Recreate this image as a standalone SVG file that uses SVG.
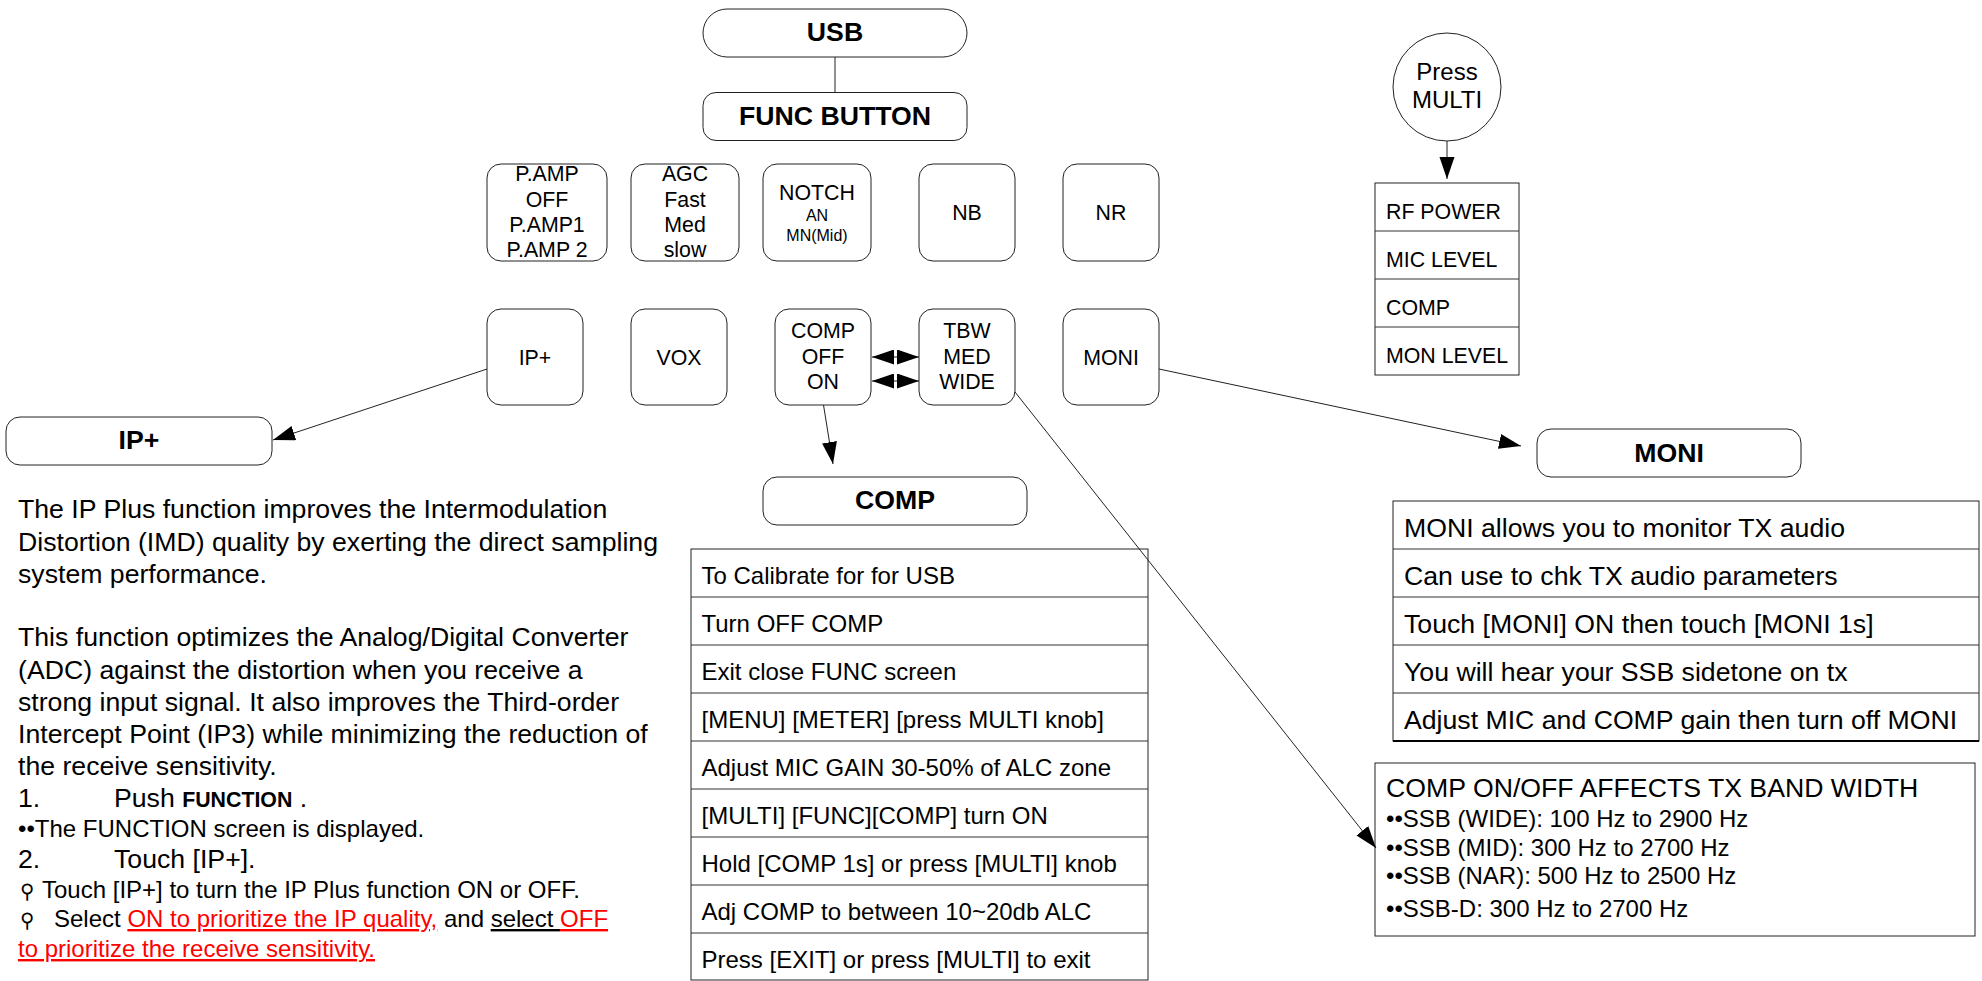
<svg xmlns="http://www.w3.org/2000/svg" width="1982" height="981" viewBox="0 0 1982 981">
<style>
text{font-family:"Liberation Sans",Arial,sans-serif;fill:#000}
.b{fill:#fff;stroke:#222;stroke-width:1}
.n{font-size:21.33px;text-anchor:middle}
.t{font-size:26.67px;font-weight:bold;text-anchor:middle}
.l{stroke:#222;stroke-width:1;fill:none}
.a{marker-end:url(#h)}
.d{marker-end:url(#h);marker-start:url(#hs)}
.r{stroke:#333;stroke-width:1;fill:none}
.p{font-size:26.67px}
.s{font-size:24px}
.c{font-size:24px}
.m{font-size:26.67px}
.red{fill:#f00;text-decoration:underline}
.u{text-decoration:underline}
.pin{font-family:"DejaVu Sans",sans-serif;font-size:20px}
</style>
<defs>
<marker id="h" markerUnits="userSpaceOnUse" markerWidth="24" markerHeight="16" refX="22" refY="7.5" orient="auto"><path d="M0 0L22 7.5L0 15Z" fill="#000"/></marker>
<marker id="hs" markerUnits="userSpaceOnUse" markerWidth="24" markerHeight="16" refX="0" refY="7.5" orient="auto"><path d="M22 0L0 7.5L22 15Z" fill="#000"/></marker>
</defs>
<g id="usb"><rect class="b" x="703" y="9" width="264" height="48" rx="24"/><text class="t" x="835" y="41">USB</text></g>
<g id="func"><rect class="b" x="703" y="92.500" width="264" height="48" rx="13"/><text class="t" x="835" y="125">FUNC BUTTON</text></g>
<g id="pamp"><rect class="b" x="487" y="164" width="120" height="97" rx="14"/><text class="n" x="547" y="181">P.AMP</text><text class="n" x="547" y="207">OFF</text><text class="n" x="547" y="232">P.AMP1</text><text class="n" x="547" y="257">P.AMP 2</text></g>
<g id="agc"><rect class="b" x="631" y="164" width="108" height="97" rx="14"/><text class="n" x="685" y="181">AGC</text><text class="n" x="685" y="207">Fast</text><text class="n" x="685" y="232">Med</text><text class="n" x="685" y="257">slow</text></g>
<g id="notch"><rect class="b" x="763" y="164" width="108" height="97" rx="14"/><text class="n" x="817" y="200">NOTCH</text><text class="n" x="817" y="221" style="font-size:16px">AN</text><text class="n" x="817" y="241" style="font-size:16px">MN(Mid)</text></g>
<g id="nb"><rect class="b" x="919" y="164" width="96" height="97" rx="14"/><text class="n" x="967" y="220">NB</text></g>
<g id="nr"><rect class="b" x="1063" y="164" width="96" height="97" rx="14"/><text class="n" x="1111" y="220">NR</text></g>
<g id="ipbtn"><rect class="b" x="487" y="309" width="96" height="96" rx="14"/><text class="n" x="535" y="365">IP+</text></g>
<g id="vox"><rect class="b" x="631" y="309" width="96" height="96" rx="14"/><text class="n" x="679" y="365">VOX</text></g>
<g id="compbtn"><rect class="b" x="775" y="309" width="96" height="96" rx="14"/><text class="n" x="823" y="338">COMP</text><text class="n" x="823" y="364">OFF</text><text class="n" x="823" y="389">ON</text></g>
<g id="tbw"><rect class="b" x="919" y="309" width="96" height="96" rx="14"/><text class="n" x="967" y="338">TBW</text><text class="n" x="967" y="364">MED</text><text class="n" x="967" y="389">WIDE</text></g>
<g id="monibtn"><rect class="b" x="1063" y="309" width="96" height="96" rx="14"/><text class="n" x="1111" y="365">MONI</text></g>
<g id="iptitle"><rect class="b" x="6" y="417" width="266" height="48" rx="14"/><text class="t" x="139" y="449">IP+</text></g>
<g id="comptitle"><rect class="b" x="763" y="477" width="264" height="48" rx="14"/><text class="t" x="895" y="509">COMP</text></g>
<g id="monititle"><rect class="b" x="1537" y="429" width="264" height="48" rx="14"/><text class="t" x="1669" y="462">MONI</text></g>
<g id="press"><circle class="b" cx="1447" cy="87" r="54"/><text x="1447" y="80" text-anchor="middle" font-size="24">Press</text><text x="1447" y="108" text-anchor="middle" font-size="24">MULTI</text></g>
<g id="multitable"><rect class="b" x="1375" y="183" width="144" height="192"/><path class="r" d="M1375 231H1519M1375 279H1519M1375 327H1519"/>
<text class="n" style="text-anchor:start" x="1386" y="219">RF POWER</text><text class="n" style="text-anchor:start" x="1386" y="267">MIC LEVEL</text><text class="n" style="text-anchor:start" x="1386" y="315">COMP</text><text class="n" style="text-anchor:start" x="1386" y="363">MON LEVEL</text></g>
<g id="comptable"><rect class="b" x="691" y="549" width="457" height="431"/><path class="r" d="M691 597H1148M691 645H1148M691 693H1148M691 741H1148M691 789H1148M691 837H1148M691 885H1148M691 933H1148"/>
<text class="c" x="701.500" y="584">To Calibrate for for USB</text>
<text class="c" x="701.500" y="632">Turn OFF COMP</text>
<text class="c" x="701.500" y="680">Exit close FUNC screen</text>
<text class="c" x="701.500" y="728">[MENU] [METER] [press MULTI knob]</text>
<text class="c" x="701.500" y="776">Adjust MIC GAIN 30-50% of ALC zone</text>
<text class="c" x="701.500" y="824">[MULTI] [FUNC][COMP] turn ON</text>
<text class="c" x="701.500" y="872">Hold [COMP 1s] or press [MULTI] knob</text>
<text class="c" x="701.500" y="920">Adj COMP to between 10~20db ALC</text>
<text class="c" x="701.500" y="968">Press [EXIT] or press [MULTI] to exit</text></g>
<g id="monitable"><rect class="b" x="1393" y="501" width="586" height="240"/><path class="r" d="M1393 549H1979M1393 597H1979M1393 645H1979M1393 693H1979"/><path d="M1393 741H1979" stroke="#000" stroke-width="2"/>
<text class="m" x="1404" y="537">MONI allows you to monitor TX audio</text>
<text class="m" x="1404" y="585">Can use to chk TX audio parameters</text>
<text class="m" x="1404" y="633">Touch [MONI] ON then touch [MONI 1s]</text>
<text class="m" x="1404" y="681">You will hear your SSB sidetone on tx</text>
<text class="m" x="1404" y="729">Adjust MIC and COMP gain then turn off MONI</text></g>
<g id="bandwidth"><rect class="b" x="1375" y="763" width="600" height="173"/>
<text class="m" x="1386" y="797">COMP ON/OFF AFFECTS TX BAND WIDTH</text>
<text class="c" x="1386" y="827">••SSB (WIDE): 100 Hz to 2900 Hz</text>
<text class="c" x="1386" y="856">••SSB (MID): 300 Hz to 2700 Hz</text>
<text class="c" x="1386" y="884">••SSB (NAR): 500 Hz to 2500 Hz</text>
<text class="c" x="1386" y="917">••SSB-D: 300 Hz to 2700 Hz</text></g>
<g id="iptext">
<text class="p" x="18" y="518">The IP Plus function improves the Intermodulation</text>
<text class="p" x="18" y="551">Distortion (IMD) quality by exerting the direct sampling</text>
<text class="p" x="18" y="583">system performance.</text>
<text class="p" x="18" y="646">This function optimizes the Analog/Digital Converter</text>
<text class="p" x="18" y="679">(ADC) against the distortion when you receive a</text>
<text class="p" x="18" y="711">strong input signal. It also improves the Third-order</text>
<text class="p" x="18" y="743">Intercept Point (IP3) while minimizing the reduction of</text>
<text class="p" x="18" y="775">the receive sensitivity.</text>
<text class="p" x="18" y="807">1.</text><text class="p" x="114" y="807">Push <tspan font-weight="bold" font-size="21.33">FUNCTION</tspan> .</text>
<text class="s" x="18" y="837">••The FUNCTION screen is displayed.</text>
<text class="p" x="18" y="868">2.</text><text class="p" x="114" y="868">Touch [IP+].</text>
<text class="pin" x="20" y="898">⚲</text><text class="s" x="42" y="898">Touch [IP+] to turn the IP Plus function ON or OFF.</text>
<text class="pin" x="20" y="927">⚲</text><text class="s" x="54" y="927">Select <tspan class="red">ON to prioritize the IP quality,</tspan> and <tspan class="u">select </tspan><tspan class="red">OFF</tspan></text>
<text class="s red" x="18" y="957">to prioritize the receive sensitivity.</text>
</g>
<g id="connectors">
<line class="l" x1="835" y1="57" x2="835" y2="92"/>
<line class="l a" x1="487" y1="369" x2="273" y2="440"/>
<line class="l a" x1="823.500" y1="405" x2="833" y2="464"/>
<line class="l a" x1="1159" y1="369" x2="1521" y2="446"/>
<line class="l a" x1="1015" y1="392" x2="1376" y2="848"/>
<line class="l a" x1="1447" y1="141" x2="1447" y2="179"/>
<line class="l d" x1="872" y1="357" x2="919" y2="357"/>
<line class="l d" x1="872" y1="381" x2="919" y2="381"/>
</g>
</svg>
